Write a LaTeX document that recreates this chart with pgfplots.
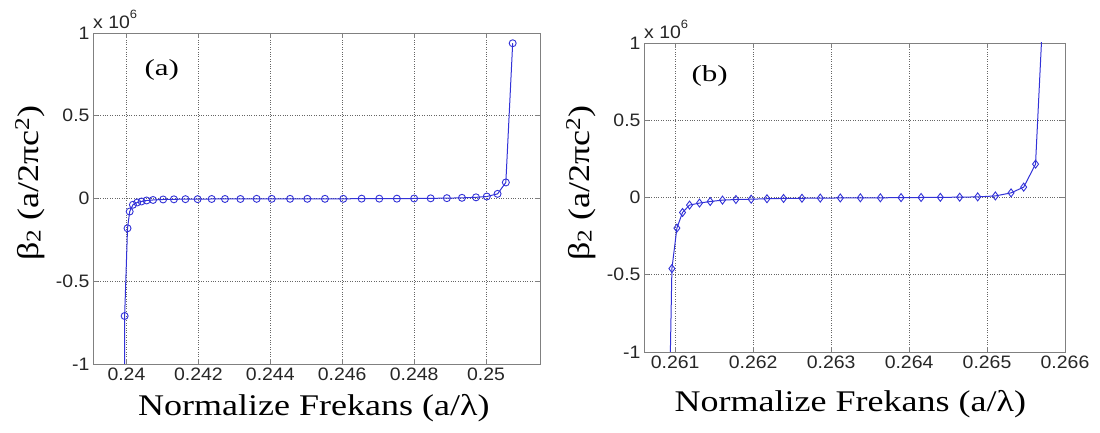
\documentclass[border=0pt]{standalone}
\usepackage{fontspec}
\usepackage{pgfplots}
\pgfplotsset{compat=1.18}
\setmainfont{Liberation Serif}
\newfontfamily\labfont[FakeStretch=1.2]{Liberation Serif}
\newfontfamily\panfont[FakeStretch=1.35]{Liberation Serif}
\newfontfamily\tickfont[FakeStretch=1.08]{Liberation Sans}
\definecolor{lineblue}{RGB}{50,50,215}

\pgfplotsset{
 myaxis/.style={
  scale only axis,
  clip mode=individual,
  axis line style={gray},
  tick style={gray, line width=0.6pt},
  tick align=inside,
  major tick length=5pt,
  grid=major,
  major grid style={dotted, line width=0.7pt, black!60},
  ymin=-1, ymax=1,
  ytick={-1,-0.5,0,0.5,1},
  yticklabels={-1,-0.5,0,0.5,1},
  ticklabel style={font=\tickfont\fontsize{18}{18}\selectfont, black!85},
  xlabel style={font=\labfont\fontsize{30}{30}\selectfont, anchor=center},
  ylabel style={font=\labfont\fontsize{30}{30}\selectfont, anchor=center},
  xlabel={Normalize Frekans (a/λ)},
  ylabel={β\raisebox{-0.08em}{\fontsize{21}{21}\selectfont 2} (a/2πc\textsuperscript{2})},
 }
}

\pgfplotstableread{
x y
0.23993 -5
0.23995 -0.71
0.24003 -0.18
0.24009 -0.079
0.24018 -0.038
0.24030 -0.024
0.24042 -0.018
0.24056 -0.012
0.24074 -0.009
0.24102 -0.006
0.24132 -0.005
0.24164 -0.004
0.24198 -0.004
0.24237 -0.003
0.24274 -0.003
0.24317 -0.003
0.24362 -0.002
0.24404 -0.002
0.24455 -0.002
0.24503 -0.002
0.24552 -0.002
0.24603 -0.002
0.24654 -0.001
0.24703 -0.001
0.24752 -0.001
0.24800 0.000
0.24846 0.001
0.24891 0.002
0.24933 0.004
0.24972 0.007
0.25002 0.012
0.25032 0.028
0.25055 0.097
0.25074 0.938
}\dataA

\pgfplotstableread{
x y
0.26092 -1.5
0.260958 -0.46
0.261022 -0.198
0.261094 -0.097
0.261184 -0.049
0.261312 -0.036
0.261449 -0.026
0.261607 -0.017
0.261779 -0.013
0.261975 -0.011
0.262177 -0.008
0.262390 -0.006
0.262626 -0.005
0.262861 -0.004
0.263118 -0.003
0.263375 -0.002
0.263632 -0.002
0.263897 -0.001
0.264154 0.000
0.264401 0.001
0.264649 0.002
0.264880 0.004
0.265107 0.010
0.265308 0.030
0.265470 0.067
0.265622 0.216
0.265746 1.5
}\dataB

\begin{document}
\begin{tikzpicture}
\useasboundingbox (0,0) rectangle (1100pt,433pt);
\begin{axis}[myaxis,
  at={(93pt,69pt)}, anchor=south west,
  width=447pt, height=331pt,
  xmin=0.23907, xmax=0.2515,
  xtick={0.24,0.242,0.244,0.246,0.248,0.25},
  xticklabels={0.24,0.242,0.244,0.246,0.248,0.25},
  xlabel style={at={(axis description cs:0.494,-0.133)}},
  ylabel style={at={(axis description cs:-0.141,0.547)}},
]
\addplot[lineblue, line width=1pt, mark=o, mark size=3.5pt, mark options={solid, line width=0.9pt}] table[x=x,y=y] {\dataA};
\node[anchor=south west, inner sep=0pt, font=\tickfont\fontsize{18}{18}\selectfont, black!85] at (axis description cs:0,1) [yshift=4pt] {x 10\raisebox{0.55em}{\fontsize{12}{12}\selectfont 6}};
\node[font=\panfont\fontsize{23}{23}\selectfont] at (axis description cs:0.154,0.888) {(a)};
\end{axis}

\begin{axis}[myaxis,
  at={(644pt,81pt)}, anchor=south west,
  width=421pt, height=309pt,
  xmin=0.2606, xmax=0.266,
  xtick={0.261,0.262,0.263,0.264,0.265,0.266},
  xticklabels={0.261,0.262,0.263,0.264,0.265,0.266},
  xlabel style={at={(axis description cs:0.49,-0.17)}},
  ylabel style={at={(axis description cs:-0.15,0.546)}},
]
\addplot[lineblue, line width=1pt, mark=diamond, mark size=4pt, mark options={solid, line width=0.9pt}] table[x=x,y=y] {\dataB};
\node[anchor=south west, inner sep=0pt, font=\tickfont\fontsize{18}{18}\selectfont, black!85] at (axis description cs:0,1) [yshift=4pt] {x 10\raisebox{0.55em}{\fontsize{12}{12}\selectfont 6}};
\node[font=\panfont\fontsize{23}{23}\selectfont] at (axis description cs:0.156,0.892) {(b)};
\end{axis}
\end{tikzpicture}
\end{document}
